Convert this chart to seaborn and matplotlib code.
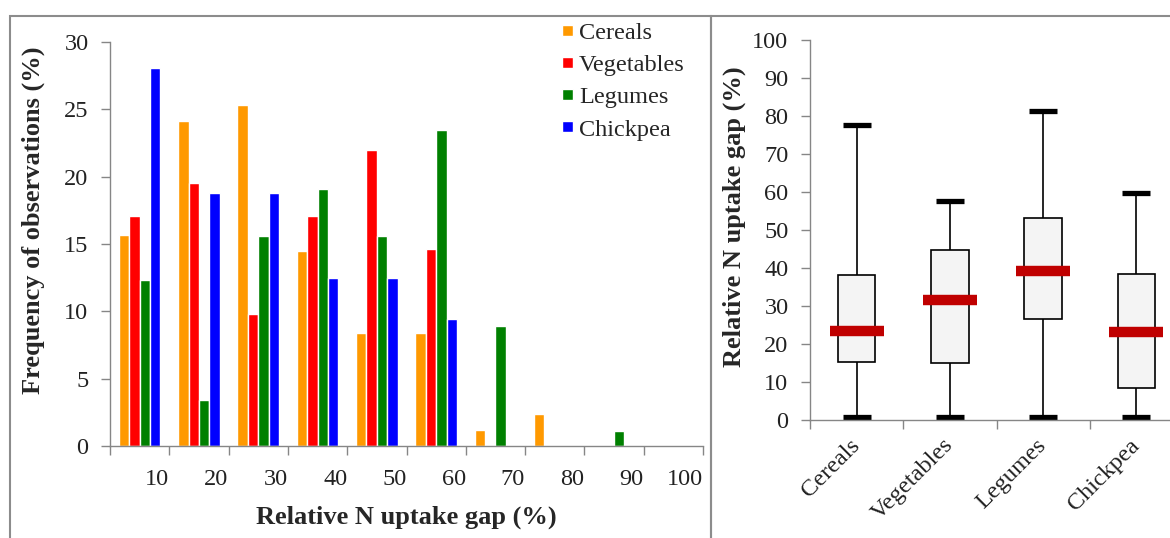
import numpy as np
import pandas as pd
import matplotlib
matplotlib.use("Agg")
import matplotlib.pyplot as plt
import matplotlib.colors as mcolors
from matplotlib.patches import Rectangle
import seaborn as sns

# histogram data: frequency of observations (%) per 10 % gap class
gap_bins = ["0-10", "10-20", "20-30", "30-40", "40-50", "50-60", "60-70", "70-80", "80-90", "90-100"]
bin_labels = ["10", "20", "30", "40", "50", "60", "70", "80", "90", "100"]
cereals = [15.7, 24.1, 25.3, 14.5, 8.4, 8.4, 1.2, 2.4, 0, 0]
vegetables = [17.1, 19.5, 9.8, 17.1, 22.0, 14.6, 0, 0, 0, 0]
legumes = [12.3, 3.4, 15.6, 19.1, 15.6, 23.5, 8.9, 0, 1.1, 0]
chickpea = [28.1, 18.8, 18.8, 12.5, 12.5, 9.4, 0, 0, 0, 0]

# box plot: five-number summaries of relative N uptake gap (%)
crops = ["Cereals", "Vegetables", "Legumes", "Chickpea"]
box_min = [0.7, 0.7, 0.7, 0.7]
box_q1 = [15.3, 15.1, 26.5, 8.3]
box_med = [23.4, 31.6, 39.3, 23.1]
box_q3 = [38.2, 44.8, 53.2, 38.3]
box_max = [77.6, 57.5, 81.4, 59.7]

bar_colors = ["#FF9900", "#FF0000", "#008000", "#0000FF"]
median_color = "#C00000"
axis_gray = "#868686"
tick_fs = 17.5
label_fs = 19

sns.set_style("ticks")
plt.rcParams["font.family"] = ["Liberation Serif", "DejaVu Serif"]

hist_df = pd.DataFrame({
    "bin": gap_bins * 4,
    "crop": [c for c in crops for _ in gap_bins],
    "freq": cereals + vegetables + legumes + chickpea,
})

# five points per crop -> quartiles of those points are exactly the summary values
box_df = pd.DataFrame({
    "crop": [c for c in crops for _ in range(5)],
    "gap": [v for i in range(4) for v in (box_min[i], box_q1[i], box_med[i], box_q3[i], box_max[i])],
})

W, H = 1170, 538
fig = plt.figure(figsize=(W / 100, H / 100), dpi=100)
fig.patch.set_facecolor("white")

# ---- left panel: grouped histogram ----
ax1 = fig.add_axes([110 / W, 1 - 446 / H, 593 / W, 404 / H])
sns.barplot(data=hist_df, x="bin", y="freq", hue="crop", order=gap_bins, hue_order=crops,
            palette=bar_colors, saturation=1, width=0.7, ax=ax1)
ax1.set_xlim(-0.5, 9.5)
ax1.set_ylim(0, 30)
ax1.set_yticks(range(0, 31, 5))
ax1.set_xticks(np.arange(-0.5, 10, 1.0))
ax1.set_xticklabels([""] + bin_labels, ha="right")
ax1.tick_params(axis="both", labelsize=tick_fs, colors=axis_gray, labelcolor="#222222",
                length=6.5, width=1)
ax1.tick_params(axis="x", pad=10)
ax1.tick_params(axis="y", pad=9)
ax1.set_xlabel("Relative N uptake gap (%)", fontsize=label_fs, fontweight="bold")
ax1.set_ylabel("Frequency of observations (%)", fontsize=label_fs, fontweight="bold")
ax1.xaxis.set_label_coords(0.5, -0.148)
ax1.yaxis.set_label_coords(-0.11, 0.56)
for s in ["top", "right"]:
    ax1.spines[s].set_visible(False)
for s in ["left", "bottom"]:
    ax1.spines[s].set_color(axis_gray)
    ax1.spines[s].set_linewidth(1)

leg = ax1.legend(loc="upper left", bbox_to_anchor=(562 / W, 1 - 23 / H),
                 bbox_transform=fig.transFigure, frameon=False, fontsize=17.5,
                 handlelength=0.45, handleheight=0.3, handletextpad=0.25,
                 labelspacing=0.46, borderpad=0, borderaxespad=0)

# ---- right panel: box plot ----
ax2 = fig.add_axes([810 / W, 1 - 420 / H, 373 / W, 380 / H])
sns.boxplot(data=box_df, x="crop", y="gap", order=crops, whis=(0, 100), width=0.4,
            color="#F4F4F4", saturation=1, linecolor="black", linewidth=1.2,
            medianprops=dict(color=median_color, linewidth=7.5, solid_capstyle="butt"),
            capprops=dict(color="black", linewidth=3.8, solid_capstyle="butt"),
            capwidths=0.3, ax=ax2)

# wider median bars, as in the original
for ln in ax2.lines:
    if mcolors.to_hex(ln.get_color()).lower() == median_color.lower():
        xd = np.asarray(ln.get_xdata(), dtype=float)
        c = xd.mean()
        ln.set_xdata([c - 0.29, c + 0.29])

ax2.set_xlim(-0.5, 3.5)
ax2.set_ylim(0, 100)
ax2.set_yticks(range(0, 101, 10))
ax2.set_xticks(range(4))
ax2.set_xticklabels(crops, rotation=45, ha="right", va="center", rotation_mode="anchor")
ax2.set_xticks(np.arange(-0.5, 3.5, 1.0), minor=True)
ax2.tick_params(axis="x", which="major", length=0, pad=16, labelsize=tick_fs, labelcolor="#222222")
ax2.tick_params(axis="x", which="minor", length=6.5, width=1, color=axis_gray)
ax2.tick_params(axis="y", labelsize=tick_fs, colors=axis_gray, labelcolor="#222222",
                length=6.5, width=1, pad=9)
ax2.set_xlabel("")
ax2.set_ylabel("Relative N uptake gap (%)", fontsize=label_fs, fontweight="bold")
ax2.yaxis.set_label_coords(-0.172, 0.534)
for s in ["top", "right"]:
    ax2.spines[s].set_visible(False)
for s in ["left", "bottom"]:
    ax2.spines[s].set_color(axis_gray)
    ax2.spines[s].set_linewidth(1)

# panel frames
fig.add_artist(Rectangle((10 / W, -0.1), 701 / W, 1.1 - 16 / H, transform=fig.transFigure,
                         fill=False, edgecolor="#8c8c8c", linewidth=1.5))
fig.add_artist(Rectangle((711 / W, -0.1), 0.5, 1.1 - 16 / H, transform=fig.transFigure,
                         fill=False, edgecolor="#8c8c8c", linewidth=1.5))

fig.savefig("out.png", dpi=100, facecolor="white")
